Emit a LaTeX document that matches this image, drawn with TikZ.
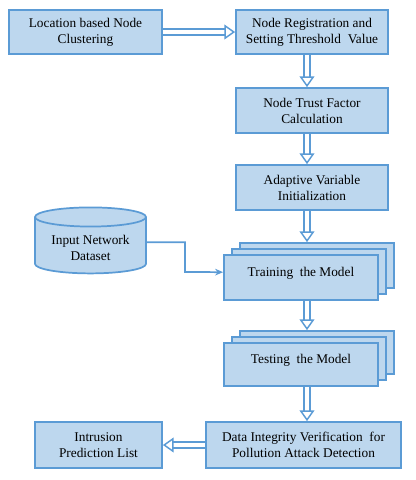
\documentclass[tikz,border=0pt]{standalone}
\usepackage{fontspec}
\setmainfont{Liberation Serif}
\usetikzlibrary{arrows.meta,shapes.geometric,shadows}

\definecolor{boxfill}{HTML}{BDD7EE}
\definecolor{boxline}{HTML}{5B9BD5}

\tikzset{
  stepbox/.style={draw=boxline, fill=boxfill, line width=1.3pt, align=center,
    font=\fontsize{10}{12}\selectfont, inner sep=2pt},
  stackbox/.style={stepbox, double copy shadow={shadow xshift=6pt, shadow yshift=4.5pt}},
  dblarrow/.style={draw=boxline, line width=1.1pt, double=white, double distance=3.2pt,
    -{Triangle[open, fill=white, length=8pt, width=11pt, line width=1.1pt]}},
  feed/.style={draw=boxline, line width=1.3pt, -{Stealth[length=6pt, width=5pt]}}
}

\begin{document}
\begin{tikzpicture}[x=0.75pt,y=-0.75pt]
\useasboundingbox (0,0) rectangle (416,480);
\coordinate (spine) at (307,0);

\node[stepbox, minimum width=153*0.75pt, minimum height=44*0.75pt] (clust) at (85.5,32) {Location based Node\\Clustering};
\node[stepbox, minimum width=152*0.75pt, minimum height=44*0.75pt] (reg) at (312,32) {Node Registration and\\Setting Threshold\ \ Value};
\node[stepbox, minimum width=152*0.75pt, minimum height=45*0.75pt] (trust) at (312,110.5) {Node Trust Factor\\Calculation};
\node[stepbox, minimum width=152*0.75pt, minimum height=45*0.75pt] (adapt) at (312,187.5) {Adaptive Variable\\Initialization};

\node[cylinder, shape border rotate=90, aspect=0.22, draw=boxline, fill=boxfill, line width=1.3pt,
  minimum width=111*0.75pt, minimum height=66*0.75pt, align=center,
  font=\fontsize{10}{12}\selectfont] (data) at (90.5,247.5) {Input Network\\Dataset};

\node[stackbox, minimum width=154*0.75pt, minimum height=45*0.75pt, text depth=9pt] (train) at (301,277.5) {Training\ \ the Model};
\node[stackbox, minimum width=154*0.75pt, minimum height=43*0.75pt, text depth=8pt] (test) at (301,364.5) {Testing\ \ the Model};

\node[stepbox, minimum width=195*0.75pt, minimum height=46*0.75pt] (verify) at (303.5,445) {Data Integrity Verification\ \ for\\Pollution Attack Detection};
\node[stepbox, minimum width=127*0.75pt, minimum height=46*0.75pt] (intr) at (98.5,445) {Intrusion\\Prediction List};

% flow
\draw[dblarrow] (clust.east) -- (reg.west);
\draw[dblarrow] (reg.south -| spine) -- (trust.north -| spine);
\draw[dblarrow] (trust.south -| spine) -- (adapt.north -| spine);
\draw[dblarrow] (adapt.south -| spine) -- ([yshift=9pt]train.north -| spine);
\draw[dblarrow] (train.south -| spine) -- ([yshift=9pt]test.north -| spine);
\draw[dblarrow] (test.south -| spine) -- (verify.north -| spine);
\draw[dblarrow] (verify.west) -- (intr.east);

\draw[feed] ([yshift=4pt]data.east) -| (185,272) -- ([yshift=4pt]train.west);
\end{tikzpicture}
\end{document}
